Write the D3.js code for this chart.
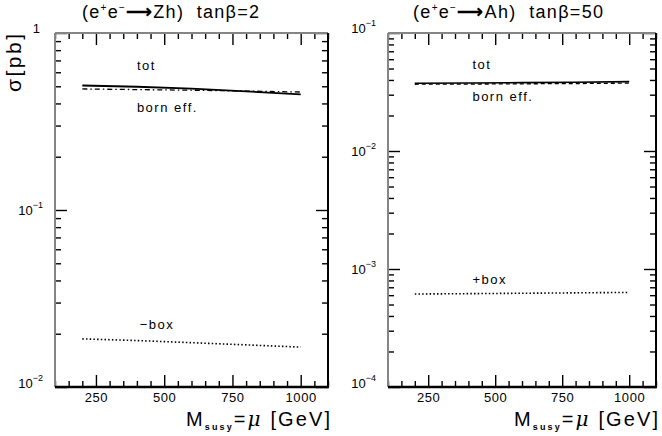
<!DOCTYPE html>
<html>
<head>
<meta charset="utf-8">
<script src="https://cdn.jsdelivr.net/npm/d3@7"></script>
<style>
  body { margin: 0; background: #fff; }
  text { font-family: "Liberation Sans", Arial, sans-serif; fill: #000; }
</style>
</head>
<body>
<svg id="chart" width="662" height="436"></svg>
<script>
// x values (M_susy = mu, GeV)
var mass = [200, 400, 600, 800, 1000]

// left panel: e+e- -> Zh, tan(beta)=2
var zhTot = [0.505, 0.497, 0.485, 0.468, 0.450]
var zhBorn = [0.483, 0.479, 0.475, 0.470, 0.464]
var zhBox = [0.0187, 0.0183, 0.0178, 0.0173, 0.0168]

// right panel: e+e- -> Ah, tan(beta)=50
var ahTot = [0.0375, 0.0377, 0.0380, 0.0383, 0.0387]
var ahBorn = [0.0368, 0.0369, 0.0371, 0.0373, 0.0376]
var ahBox = [0.000614, 0.000618, 0.000623, 0.000628, 0.000633]

var xTicks = [250, 500, 750, 1000]
var leftExp = [0, -1, -2]
var rightExp = [-1, -2, -3, -4]

var svg = d3.select("#chart")

var drawPanel = function(p){
  var x = d3.scaleLinear().domain([100, 1100]).range([p.x0, p.x1])
  var y = d3.scaleLog().domain(p.ydom).range([p.y1, p.y0])
  var g = svg.append("g")

  // minor x ticks every 50
  var minorX = d3.range(100, 1101, 50).filter(function(d){ return d % 250 != 0 })
  var majorX = d3.range(0, 1101, 250).filter(function(d){ return d >= 100 })

  var tickAxis = function(axis, tr){
    var a = g.append("g").attr("transform", tr).call(axis)
    a.select(".domain").remove()
    a.selectAll("line").attr("stroke", "#000").attr("stroke-width", 1.4)
    return a
  }

  tickAxis(d3.axisBottom(x).tickValues(minorX).tickSize(-6).tickFormat(""), "translate(0," + p.y1 + ")")
  tickAxis(d3.axisTop(x).tickValues(minorX).tickSize(-6).tickFormat(""), "translate(0," + p.y0 + ")")
  tickAxis(d3.axisTop(x).tickValues(majorX).tickSize(-12).tickFormat(""), "translate(0," + p.y0 + ")")
  var xb = tickAxis(d3.axisBottom(x).tickValues(majorX).tickSize(-12).tickPadding(6).tickFormat(function(d){
    return xTicks.indexOf(d) >= 0 ? d : ""
  }), "translate(0," + p.y1 + ")")
  xb.selectAll("text").style("font-size", "13px").style("letter-spacing", "0.6px").attr("font-family", null)

  // y ticks: decades and 2..9
  var lo = Math.log10(p.ydom[0]), hi = Math.log10(p.ydom[1])
  var minorY = [], majorY = []
  for (var e = lo; e <= hi; e++){
    majorY.push(Math.pow(10, e))
    if (e < hi) for (var k = 2; k <= 9; k++) minorY.push(k * Math.pow(10, e))
  }
  tickAxis(d3.axisLeft(y).tickValues(minorY).tickSize(-6).tickFormat(""), "translate(" + p.x0 + ",0)")
  tickAxis(d3.axisRight(y).tickValues(minorY).tickSize(-6).tickFormat(""), "translate(" + p.x1 + ",0)")
  tickAxis(d3.axisLeft(y).tickValues(majorY).tickSize(-12).tickFormat(""), "translate(" + p.x0 + ",0)")
  tickAxis(d3.axisRight(y).tickValues(majorY).tickSize(-12).tickFormat(""), "translate(" + p.x1 + ",0)")

  // y labels 10^n
  p.exps.forEach(function(e){
    var yy = y(Math.pow(10, e))
    if (e == hi) yy -= 5
    else if (e == lo) yy -= 4
    var t = g.append("text").attr("text-anchor", "end")
      .attr("x", p.x0 - 12).attr("y", yy + 5).style("font-size", "13px")
    if (e == 0) { t.attr("x", p.x0 - 15).text("1"); return }
    t.append("tspan").text("10")
    t.append("tspan").attr("dy", -7).style("font-size", "9px").text("\u2212" + (-e))
  })

  // frame
  g.append("line").attr("x1", p.x0).attr("x2", p.x0).attr("y1", p.y0).attr("y2", p.y1)
    .attr("stroke", "#858585").attr("stroke-width", 2)
  g.append("line").attr("x1", p.x0).attr("x2", p.x1).attr("y1", p.y0).attr("y2", p.y0)
    .attr("stroke", "#858585").attr("stroke-width", 2)
  g.append("line").attr("x1", p.x1).attr("x2", p.x1).attr("y1", p.y0).attr("y2", p.y1)
    .attr("stroke", "#000").attr("stroke-width", 2)
  g.append("line").attr("x1", p.x0).attr("x2", p.x1 + 1).attr("y1", p.y1).attr("y2", p.y1)
    .attr("stroke", "#000").attr("stroke-width", 2.5)

  // curves
  var line = d3.line().x(function(d){ return x(d[0]) }).y(function(d){ return y(d[1]) })
  p.series.forEach(function(s){
    g.append("path").datum(d3.zip(mass, s.values))
      .attr("d", line).attr("fill", "none").attr("stroke", "#000")
      .attr("stroke-width", s.width).attr("stroke-dasharray", s.dash)
  })

  // curve labels
  p.labels.forEach(function(l){
    g.append("text").attr("x", x(l.at)).attr("y", y(l.v)).style("font-size", "13px")
      .style("letter-spacing", "1.5px").text(l.text)
  })

  // title
  var tt = g.append("text").attr("x", p.titleX).attr("y", 18).style("font-size", "18px")
    .attr("textLength", p.titleW).attr("lengthAdjust", "spacing")
  tt.append("tspan").text("(e")
  tt.append("tspan").attr("dy", -7).style("font-size", "10px").text("+")
  tt.append("tspan").attr("dy", 7).text("e")
  tt.append("tspan").attr("dy", -7).style("font-size", "10px").text("\u2212")
  tt.append("tspan").attr("dy", 7).style("font-weight", "bold").text("\u27F6")
  tt.append("tspan").text(p.proc + ")\u00A0\u00A0tan\u03B2=" + p.tanb)

  // x label
  var xl = g.append("text").attr("x", p.x1 + 2 - 144).attr("y", 426)
    .style("font-size", "20px").attr("textLength", 144).attr("lengthAdjust", "spacing")
  xl.append("tspan").text("M")
  xl.append("tspan").attr("dy", 4).style("font-size", "9px").style("font-weight", "bold").text("susy")
  xl.append("tspan").attr("dy", -4).text("=")
  xl.append("tspan").style("font-style", "italic").attr("font-family", "DejaVu Serif").text("\u03BC")
  xl.append("tspan").text(" [GeV]")
}

drawPanel({
  x0: 55, x1: 328, y0: 33, y1: 387, ydom: [0.01, 1], exps: leftExp,
  proc: "Zh", tanb: 2, titleX: 82, titleW: 177,
  series: [
    { values: zhTot, dash: null, width: 1.8 },
    { values: zhBorn, dash: "5,3,1.5,3", width: 1.3 },
    { values: zhBox, dash: "1.5,2.2", width: 1.6 }
  ],
  labels: [
    { text: "tot", at: 400, v: 0.62 },
    { text: "born eff.", at: 400, v: 0.36 },
    { text: "\u2212box", at: 410, v: 0.0212 }
  ]
})

drawPanel({
  x0: 388, x1: 656, y0: 33, y1: 387, ydom: [0.0001, 0.1], exps: rightExp,
  proc: "Ah", tanb: 50, titleX: 413, titleW: 190,
  series: [
    { values: ahTot, dash: null, width: 1.6 },
    { values: ahBorn, dash: "4,3", width: 1.3 },
    { values: ahBox, dash: "1.5,2.2", width: 1.6 }
  ],
  labels: [
    { text: "tot", at: 415, v: 0.0495 },
    { text: "born eff.", at: 415, v: 0.0265 },
    { text: "+box", at: 415, v: 0.00074 }
  ]
})

// y axis title
svg.append("text").attr("transform", "translate(21,92) rotate(-90)")
  .style("font-size", "21px").attr("textLength", 58).attr("lengthAdjust", "spacing")
  .text("\u03C3[pb]")
</script>
</body>
</html>
